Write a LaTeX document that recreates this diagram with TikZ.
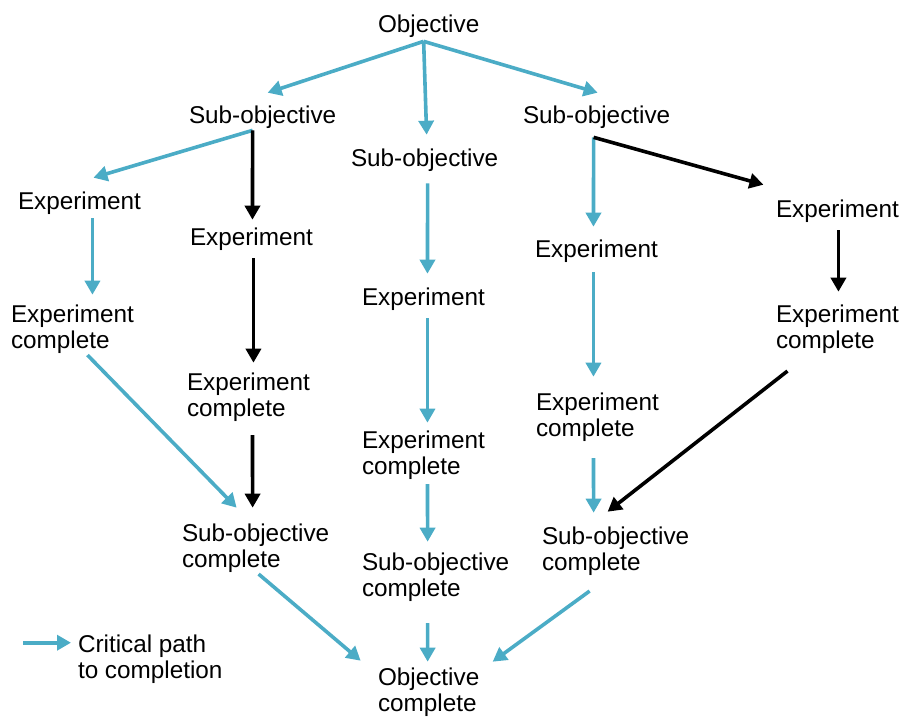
\documentclass[tikz,border=0pt]{standalone}
\usepackage{fontspec}
\setmainfont{Liberation Sans}
\usetikzlibrary{arrows.meta,calc}
\definecolor{critblue}{HTML}{4BACC6}
\begin{document}
\begin{tikzpicture}[x=1pt,y=-1pt,
  steptext/.style={inner sep=0pt,outer sep=0pt,anchor=north west,align=left,
    font=\fontsize{24.3}{25.7}\selectfont},
  link/.style={line width=3.6pt,-{Triangle[length=14pt,width=15pt]}},
  crit/.style={link,color=critblue},
  side/.style={link,color=black}]
\useasboundingbox (0,0) rectangle (902,718);

% top objective and sub-objectives
\node[steptext] (obj) at (378,14.7) {Objective};
\node[steptext] (so1) at (189,105.7) {Sub-objective};
\node[steptext] (so2) at (351,148.7) {Sub-objective};
\node[steptext] (so3) at (523,105.7) {Sub-objective};

% experiments
\node[steptext] (e1) at (18,191.7) {Experiment};
\node[steptext] (e2) at (190,227.7) {Experiment};
\node[steptext] (e3) at (362,287.7) {Experiment};
\node[steptext] (e4) at (535,239.7) {Experiment};
\node[steptext] (e5) at (776,199.7) {Experiment};

% completed experiments
\node[steptext] (ec1) at (11,304.7) {Experiment\\complete};
\node[steptext] (ec2) at (187,372.7) {Experiment\\complete};
\node[steptext] (ec3) at (362,430.7) {Experiment\\complete};
\node[steptext] (ec4) at (536,392.7) {Experiment\\complete};
\node[steptext] (ec5) at (776,304.7) {Experiment\\complete};

% completed sub-objectives and objective
\node[steptext] (sc1) at (182,523.7) {Sub-objective\\complete};
\node[steptext] (sc2) at (362,552.7) {Sub-objective\\complete};
\node[steptext] (sc3) at (542,526.7) {Sub-objective\\complete};
\node[steptext] (oc) at (378,667.7) {Objective\\complete};

% legend
\node[steptext] (leg) at (78,634.7) {Critical path\\to completion};

% fork points
\coordinate (objfork) at ($(obj.south)+(-5,4)$);
\coordinate (so1fork) at ($(so1.south)+(-10,2)$);
\coordinate (so3fork) at ($(so3.south)+(-3,9)$);

% objective to sub-objectives
\draw[crit] (objfork) -- ($(so1.north)+(5,-13)$);
\draw[crit] (objfork) -- ($(so2.north)+(2,-14)$);
\draw[crit] (objfork) -- ($(so3.north)+(1,-13)$);

% left branch
\draw[crit] (so1fork) -- ($(e1.north)+(14,-14)$);
\draw[side] (so1fork) -- ($(e2.north)+(1,-8)$);
\draw[crit] ($(e1.south)+(13,4)$) -- ($(ec1.north)+(20,-10)$);
\draw[side] ($(e2.south)+(2,8)$) -- ($(ec2.north)+(5,-10)$);
\draw[crit] ($(ec1.south)+(15,2)$) -- ($(sc1.north)+(-19,-16)$);
\draw[side] ($(ec2.south)+(4,14)$) -- ($(sc1.north)+(-3,-16)$);
\draw[crit] ($(sc1.south)+(3,2)$) -- ($(oc.north)+(-68,-7)$);

% middle branch
\draw[crit] ($(so2.south)+(3,12)$) -- ($(e3.north)+(4,-14)$);
\draw[crit] ($(e3.south)+(4,8)$) -- ($(ec3.north)+(4,-8)$);
\draw[crit] ($(ec3.south)+(4,5)$) -- ($(sc2.north)+(-8,-11)$);
\draw[crit] ($(sc2.south)+(-8,22)$) -- ($(oc.north)+(-1,-6)$);

% right branch
\draw[crit] (so3fork) -- ($(e4.north)+(-3,-13)$);
\draw[side] (so3fork) -- ($(e5.north)+(-74,-15)$);
\draw[crit] ($(e4.south)+(-3,10)$) -- ($(ec4.north)+(-4,-16)$);
\draw[side] ($(e5.south)+(1,8)$) -- ($(ec5.north)+(1,-13)$);
\draw[crit] ($(ec4.south)+(-4,17)$) -- ($(sc3.north)+(-22,-14)$);
\draw[side] ($(ec5.south)+(-50,18)$) -- ($(sc3.north)+(-8,-15)$);
\draw[crit] ($(sc3.south)+(-26,16)$) -- ($(oc.north)+(64,-6)$);

% legend arrow
\draw[crit] ($(leg.north west)+(-55,8)$) -- ($(leg.north west)+(-7,8)$);
\end{tikzpicture}
\end{document}
